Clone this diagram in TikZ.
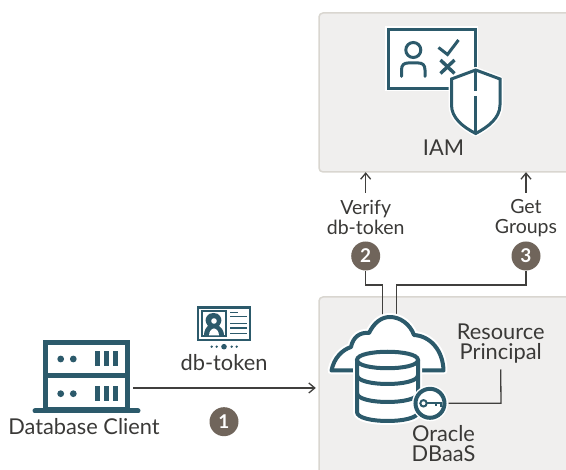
\documentclass[tikz,border=0pt]{standalone}
\usepackage{fontspec}
\setmainfont{Lato}
\definecolor{teal1}{HTML}{2C5A6B}
\definecolor{boxfill}{HTML}{F0EFEE}
\definecolor{boxline}{HTML}{D9D6D0}
\definecolor{badge}{HTML}{70655B}
\definecolor{ink}{HTML}{3A3937}
\definecolor{wire}{HTML}{403F3D}
\usetikzlibrary{arrows.meta}
\tikzset{
  x=1pt,y=-1pt,
  panel/.style={draw=boxline,line width=1.5pt,fill=boxfill,rounded corners=4pt},
  lab/.style={text=ink,font=\fontsize{21.8}{20}\selectfont,align=center,inner sep=0pt},
  steplab/.style={text=ink,font=\fontsize{19.5}{20}\selectfont,align=center,inner sep=0pt},
  num/.style={circle,fill=badge,text=white,minimum size=29pt,inner sep=0pt,font=\bfseries\fontsize{19}{19}\selectfont},
  wireline/.style={draw=wire,line width=1.3pt},
  arrowline/.style={draw=wire,line width=1.3pt,-{Straight Barb[length=6pt,width=10pt]}},
  icon/.style={draw=teal1,line width=4pt},
  halo/.style={draw=white,line width=8pt,fill=white,line join=round},
  spot/.style={inner sep=0pt,minimum size=0pt,draw=none}
}
\begin{document}
\begin{tikzpicture}
\useasboundingbox (0,0) rectangle (566,470);
% panels
\path[panel] (319,13) -- (580,13) -- (580,172) -- (319,172) -- cycle;
\path[panel] (319,297) -- (580,297) -- (580,490) -- (319,490) -- cycle;
\node[spot,minimum width=247pt,minimum height=159pt] (iam) at (442.5,92.5) {};
\node[spot,minimum width=247pt,minimum height=173pt] (dbaas) at (442.5,383.5) {};
\node[spot,minimum width=90pt,minimum height=96pt] (client) at (88,388) {};
% IAM icon
\fill[white] (385,26) rectangle (478,91);
\draw[icon,line width=3pt] (451,88.5) -- (388.5,88.5) -- (388.5,29.5) -- (475,29.5) -- (475,68);
\draw[teal1,line width=3pt] (413.3,50) circle (7.5);
\draw[teal1,line width=3pt,line cap=round] (401.5,76.5) -- (401.5,70) .. controls (401.5,65) and (404,63) .. (408,63) -- (418.5,63) .. controls (422.5,63) and (425,65) .. (425,70) -- (425,76.5);
\draw[teal1,line width=3pt] (438.5,47.5) -- (447.5,54.5) -- (458.5,40);
\draw[teal1,line width=3.4pt] (440.5,60) -- (454.5,73.5) (454.5,60) -- (440.5,73.5);
\path[halo,line width=6pt] (475.7,70) -- (500,79) -- (500,105) .. controls (500,118) and (488,127) .. (475.7,133.5) .. controls (463,127) and (451.5,118) .. (451.5,105) -- (451.5,79) -- cycle;
\draw[teal1,line width=3pt,line join=miter,fill=white] (475.7,70) -- (500,79) -- (500,105) .. controls (500,118) and (488,127) .. (475.7,133.5) .. controls (463,127) and (451.5,118) .. (451.5,105) -- (451.5,79) -- cycle;
\draw[teal1,line width=3pt] (475.7,71) -- (475.7,91) (475.7,96) -- (475.7,132);
\node[lab] (iamlabel) at (443.5,148) {IAM};
% Step labels
\node[steplab] (verify) at (365.7,217) {Verify\\db-token};
\node[steplab] (groups) at (526,218) {Get\\Groups};
\node[num] (n2) at (365.7,256) {2};
\node[num] (n3) at (526,256) {3};
\draw[arrowline] (verify.north |- 0,193) -- (verify.north |- iam.south);
\draw[arrowline] (groups.north |- 0,193) -- (groups.north |- iam.south);
% DBaaS connectors (under the icon)
\draw[wireline] (n2.south) -- (365.7,285) -- (382.7,285) -- (382.7,318);
\draw[wireline] (n3.south) -- (526,285) -- (396.7,285) -- (396.7,318);
% DBaaS icon
\path[halo] (331.5,370.5) .. controls (334,358) and (342,350) .. (351,347) .. controls (353,337) and (360,332) .. (369,333) .. controls (374,323) and (381,317) .. (390,317) .. controls (400,317) and (410,324) .. (414,335) .. controls (430,336) and (443,350) .. (443.5,370.5) -- cycle;
\draw[icon,line join=round] (356,370.5) -- (331.5,370.5) .. controls (334,358) and (342,350) .. (351,347) .. controls (353,337) and (360,332) .. (369,333) .. controls (374,323) and (381,317) .. (390,317) .. controls (400,317) and (410,324) .. (414,335) .. controls (430,336) and (443,350) .. (443.5,370.5) -- (420,370.5);
\path[halo] (357,360) -- (357,412) .. controls (357,424) and (418,424) .. (418,412) -- (418,360) -- cycle;
\draw[icon,fill=white] (357,360) .. controls (357,349) and (418,349) .. (418,360) .. controls (418,371) and (357,371) .. (357,360) -- cycle;
\draw[icon] (357,360) -- (357,412) .. controls (357,424) and (418,424) .. (418,412) -- (418,360);
\draw[icon] (357,375) .. controls (357,387) and (418,387) .. (418,375);
\draw[icon] (357,393) .. controls (357,405) and (418,405) .. (418,393);
\fill[white] (430,403.3) circle (18);
\draw[icon,fill=white] (430,403.3) circle (14.5);
\draw[teal1,line width=2pt] (423.5,403.3) circle (3.2);
\draw[teal1,line width=2pt] (426.7,403.3) -- (441,403.3) -- (441,407.5) (436,403.3) -- (436,406.5);
\node[lab] (rp) at (500.7,343.5) {Resource\\Principal};
\node[lab] (oracle) at (443.5,444) {Oracle\\DBaaS};
\node[spot] (keyend) at (448.5,403.3) {};
\draw[wireline] (keyend) -- (501,403.3) -- (rp.south |- 0,369.5);
% Client icon
\draw[teal1,line width=5pt] (45.5,342.5) rectangle (127,410);
\draw[teal1,line width=5pt] (45.5,376) -- (127,376);
\draw[teal1,line width=5pt,line cap=round] (35,411) -- (138,411);
\foreach \yy in {359,393.7}{
  \fill[teal1] (60.7,\yy) circle (3.4);
  \fill[teal1] (73.3,\yy) circle (3.4);
  \fill[teal1] (95,\yy-7.5) rectangle (100.2,\yy+7.5);
  \fill[teal1] (104,\yy-7.5) rectangle (109.2,\yy+7.5);
  \fill[teal1] (112.8,\yy-7.5) rectangle (118,\yy+7.5);
}
\node[lab] (clientlabel) at (84,427) {Database Client};
\draw[arrowline,shorten >=3pt] (client.east) -- (dbaas.west |- client.east);
\node[lab] (tok) at (224,363) {db-token};
\node[num] (n1) at (224,421.7) {1};
% token icon
\fill[white] (196,305) rectangle (252,342);
\draw[teal1,line width=2.4pt] (198,307.5) rectangle (250,340);
\draw[teal1,line width=2pt] (202,311.5) rectangle (226,336.5);
\fill[teal1] (204,336) .. controls (204,329) and (207,327) .. (208,326) .. controls (205,322) and (205,319) .. (207,316) .. controls (209,312) and (218,312) .. (220,316) .. controls (222,319) and (222,322) .. (219,326) .. controls (220,327) and (224,329) .. (224,336) -- cycle;
\fill[white] (214,321) circle (2.8);
\fill[white] (209,335.5) .. controls (209,331) and (212,328.5) .. (214,328.5) .. controls (216,328.5) and (219,331) .. (219,335.5) -- cycle;
\foreach \yy/\xa/\xb in {312.5/230/238,316.5/230/247,323.5/230/247,328/230/247,333.5/230/247}{
  \draw[teal1,line width=1.7pt] (\xa,\yy) -- (\xb,\yy);
}
\foreach \xx/\rr in {211.7/1.3,216.7/1.3,224/2.8,231.7/1.3,236.7/1.3}{
  \fill[teal1] (\xx,346.7) circle (\rr);
}
\end{tikzpicture}
\end{document}
